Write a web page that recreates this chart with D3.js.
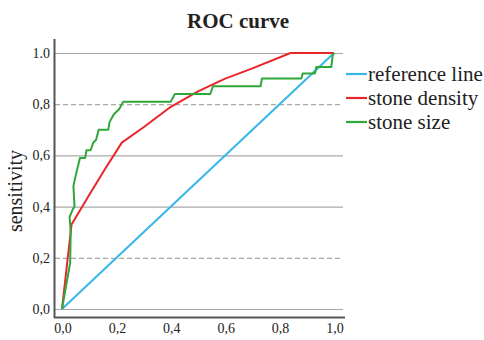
<!DOCTYPE html>
<html>
<head>
<meta charset="utf-8">
<title>ROC curve</title>
<script src="https://d3js.org/d3.v7.min.js"></script>
<style>
  body { margin: 0; background: #fff; }
  text { font-family: "Liberation Serif", "DejaVu Serif", serif; fill: #222; }
</style>
</head>
<body>
<script>
// data
const yTicks = [0, 0.2, 0.4, 0.6, 0.8, 1.0];
const yTickLabels = ["0,0", "0,2", "0,4", "0,6", "0,8", "1.0"];
const xTicks = [0, 0.2, 0.4, 0.6, 0.8, 1.0];
const xTickLabels = ["0,0", "0,2", "0,4", "0,6", "0,8", "1,0"];
const dashedTicks = [0.2, 0.8];

const referenceLine = [[0, 0], [1, 1]];
const stoneDensity = [[0, 0], [0.035, 0.33], [0.1, 0.445], [0.16, 0.55], [0.22, 0.65], [0.3, 0.71],
  [0.4, 0.79], [0.5, 0.85], [0.6, 0.9], [0.7, 0.94], [0.84, 1], [1, 1]];
const stoneSize = [[0, 0], [0.03, 0.18], [0.032, 0.30], [0.028, 0.36], [0.04, 0.39], [0.046, 0.40],
  [0.042, 0.48], [0.05, 0.52], [0.066, 0.59], [0.085, 0.59], [0.09, 0.62], [0.105, 0.62],
  [0.115, 0.65], [0.125, 0.66], [0.135, 0.70], [0.17, 0.70], [0.175, 0.73], [0.19, 0.76],
  [0.21, 0.78], [0.225, 0.81], [0.40, 0.81], [0.415, 0.84], [0.545, 0.84], [0.555, 0.87],
  [0.73, 0.87], [0.735, 0.90], [0.88, 0.90], [0.885, 0.92], [0.93, 0.92], [0.935, 0.945],
  [0.99, 0.945], [0.995, 0.99], [1, 1]];

const seriesNames = ["reference line", "stone density", "stone size"];
const seriesColors = ["#38b6e8", "#e8262a", "#2fa838"];

const w = 484, h = 340;

const svg = d3.select("body").append("svg")
  .attr("width", w)
  .attr("height", h);

const x = d3.scaleLinear().domain([0, 1]).range([62, 334]);
const y = d3.scaleLinear().domain([0, 1]).range([309, 53]);

// title
svg.append("text")
  .attr("x", 238)
  .attr("y", 28)
  .attr("text-anchor", "middle")
  .style("font-size", "21px")
  .style("font-weight", "bold")
  .text("ROC curve");

// gridlines
svg.selectAll(".grid")
  .data(yTicks)
  .enter()
  .append("line")
  .attr("class", "grid")
  .attr("x1", 55)
  .attr("x2", 343)
  .attr("y1", d => y(d) + 0.5)
  .attr("y2", d => y(d) + 0.5)
  .attr("stroke", "#a8a8a8")
  .attr("stroke-width", 1.2)
  .attr("stroke-dasharray", d => dashedTicks.includes(d) ? "5,3" : null);

// y tick labels
svg.selectAll(".ylab")
  .data(yTicks)
  .enter()
  .append("text")
  .attr("class", "ylab")
  .attr("x", 50)
  .attr("y", d => y(d))
  .attr("dy", "0.35em")
  .attr("text-anchor", "end")
  .style("font-size", "14px")
  .text((d, i) => yTickLabels[i]);

// x tick labels
svg.selectAll(".xlab")
  .data(xTicks)
  .enter()
  .append("text")
  .attr("class", "xlab")
  .attr("x", d => x(d) + 1)
  .attr("y", 333)
  .attr("text-anchor", "middle")
  .style("font-size", "14px")
  .text((d, i) => xTickLabels[i]);

// axis lines
svg.append("line")
  .attr("x1", 54.5).attr("x2", 54.5)
  .attr("y1", 39).attr("y2", 318)
  .attr("stroke", "#555").attr("stroke-width", 2);
svg.append("line")
  .attr("x1", 54).attr("x2", 345)
  .attr("y1", 317.5).attr("y2", 317.5)
  .attr("stroke", "#555").attr("stroke-width", 2);

// y axis title
svg.append("text")
  .attr("transform", "translate(22,191) rotate(-90)")
  .attr("text-anchor", "middle")
  .style("font-size", "20px")
  .text("sensitivity");

// curves
const line = d3.line().x(d => x(d[0])).y(d => y(d[1]));
const series = [referenceLine, stoneDensity, stoneSize];

svg.selectAll(".curve")
  .data(series)
  .enter()
  .append("path")
  .attr("class", "curve")
  .attr("d", line)
  .attr("fill", "none")
  .attr("stroke", (d, i) => seriesColors[i])
  .attr("stroke-width", 2)
  .attr("stroke-linejoin", "round");

// legend
const legend = svg.selectAll(".legend")
  .data(seriesNames)
  .enter()
  .append("g")
  .attr("class", "legend")
  .attr("transform", (d, i) => "translate(346," + (74 + i * 24) + ")");

legend.append("line")
  .attr("x1", 0).attr("x2", 21)
  .attr("stroke", (d, i) => seriesColors[i])
  .attr("stroke-width", 2.2);

legend.append("text")
  .attr("x", 22)
  .attr("y", 7)
  .style("font-size", "21px")
  .text(d => d);
</script>
</body>
</html>
